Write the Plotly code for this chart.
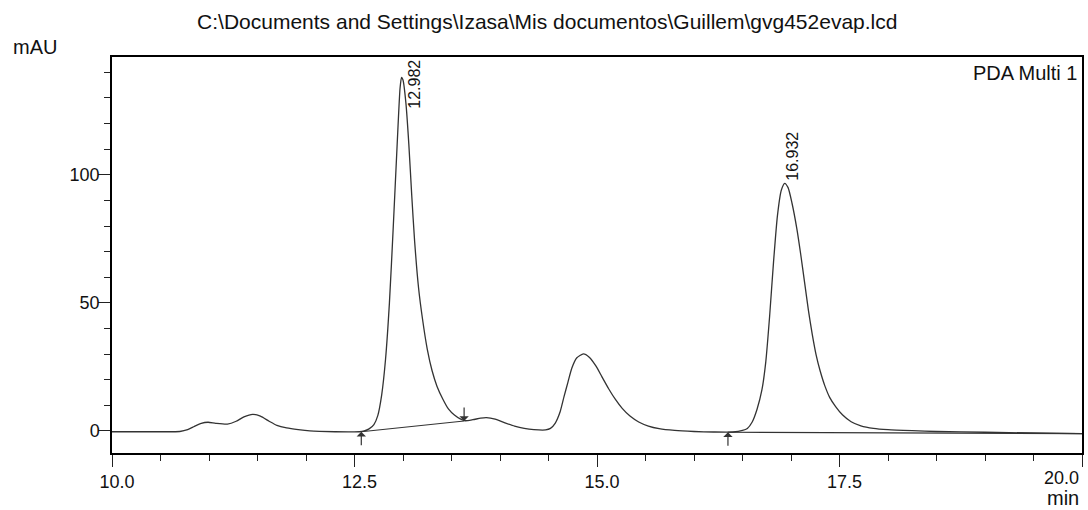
import plotly.graph_objects as go

# chromatogram trace (min, mAU)
time_min = [
    10.0, 10.5, 10.70, 10.78, 10.85, 10.92, 10.99, 11.07, 11.19, 11.28,
    11.36, 11.45, 11.53, 11.62, 11.70, 11.80, 11.92, 12.04, 12.30, 12.55,
    12.60, 12.65, 12.70, 12.74, 12.78, 12.82, 12.86, 12.90, 12.94, 12.97,
    12.985, 13.00, 13.03, 13.06, 13.09, 13.12, 13.16, 13.20, 13.25, 13.30,
    13.35, 13.41, 13.47, 13.53, 13.59, 13.64, 13.72, 13.80, 13.86, 13.95,
    14.05, 14.15, 14.25, 14.35, 14.47, 14.52, 14.57, 14.62, 14.66, 14.70,
    14.74, 14.79, 14.86, 14.92, 14.99, 15.05, 15.12, 15.19, 15.26, 15.34,
    15.43, 15.53, 15.64, 15.80, 16.00, 16.20, 16.40, 16.50, 16.55, 16.60,
    16.65, 16.70, 16.74, 16.78, 16.82, 16.86, 16.90, 16.935, 16.97, 17.01,
    17.06, 17.10, 17.14, 17.18, 17.22, 17.26, 17.30, 17.35, 17.40, 17.46,
    17.53, 17.62, 17.72, 17.85, 18.00, 18.25, 18.50, 19.00, 19.50, 20.0,
]
signal_mau = [
    -0.3, -0.3, -0.2, 0.5, 1.8, 3.0, 3.4, 3.0, 2.7, 3.8,
    5.5, 6.5, 5.8, 3.8, 2.2, 1.2, 0.5, 0.0, -0.3, -0.3,
    0.0, 0.8, 2.5, 6.0, 14.0, 28.0, 50.0, 80.0, 112.0, 134.0,
    138.0, 137.0, 128.0, 112.0, 92.0, 74.0, 56.0, 44.0, 32.0, 23.5,
    17.5, 12.5, 8.5, 6.2, 4.7, 4.0, 4.4, 5.0, 5.2, 4.6,
    3.2, 1.9, 1.0, 0.5, 0.4, 1.0, 3.1, 7.5, 13.4, 19.0,
    24.5, 28.5, 30.1, 28.8, 25.3, 21.2, 16.5, 12.3, 8.8, 5.8,
    3.5, 1.9, 0.9, 0.2, -0.2, -0.4, -0.4, 0.2, 1.0, 3.5,
    8.5, 16.0, 27.0, 45.0, 66.0, 84.0, 94.0, 96.7, 95.0, 89.0,
    79.0, 69.0, 58.0, 47.0, 37.5, 29.5, 23.5, 17.5, 13.0, 9.5,
    6.3, 3.6, 2.0, 1.0, 0.5, 0.1, -0.2, -0.5, -0.8, -1.0,
]

# integration baselines
base1_t = [12.57, 13.63]
base1_v = [-0.3, 3.9]
base2_t = [16.35, 20.0]
base2_v = [-0.5, -1.0]

# peak start/end markers (time, value, direction)
marker_t = [12.57, 13.63, 16.35]
marker_v = [-0.3, 3.9, -0.5]
marker_up = [True, False, True]

peak_t = [12.982, 16.932]
peak_v = [138.0, 96.7]
peak_labels = ["12.982", "16.932"]

x_ticks = [10.0, 12.5, 15.0, 17.5, 20.0]
x_ticktext = ["10.0", "12.5", "15.0", "17.5", ""]
y_ticks = [0, 50, 100]

FONT = "Liberation Sans, Arial, sans-serif"
INK = "#111111"

fig = go.Figure()
fig.add_trace(go.Scatter(x=time_min, y=signal_mau, mode="lines",
                         line=dict(color="#333333", width=1.3, shape="spline", smoothing=0.6)))
fig.add_trace(go.Scatter(x=base1_t, y=base1_v, mode="lines",
                         line=dict(color="#333333", width=1.2)))
fig.add_trace(go.Scatter(x=base2_t, y=base2_v, mode="lines",
                         line=dict(color="#333333", width=1.2)))

for t, v, up in zip(marker_t, marker_v, marker_up):
    fig.add_annotation(x=t, y=v, ax=0, ay=15 if up else -15, text="",
                       showarrow=True, arrowhead=1, arrowsize=1.3,
                       arrowwidth=1.2, arrowcolor="#333333")

# peak retention time labels
fig.add_annotation(x=peak_t[0], y=peak_v[0], text=peak_labels[0], textangle=-90,
                   showarrow=False, xshift=13, yshift=-7,
                   font=dict(family=FONT, size=16, color=INK))
fig.add_annotation(x=peak_t[1], y=peak_v[1], text=peak_labels[1], textangle=-90,
                   showarrow=False, xshift=8, yshift=27,
                   font=dict(family=FONT, size=16, color=INK))

fig.add_annotation(xref="paper", yref="paper", x=1, y=1, xshift=-3, yshift=-3,
                   text="PDA Multi 1", showarrow=False, xanchor="right", yanchor="top",
                   font=dict(family=FONT, size=20, color=INK))
fig.add_annotation(xref="paper", yref="paper", x=1, y=0, xshift=-1, yshift=-25, text="20.0",
                   showarrow=False, xanchor="right", yanchor="middle",
                   font=dict(family=FONT, size=18, color=INK))
fig.add_annotation(xref="paper", yref="paper", x=1, y=0, xshift=-1, yshift=-45, text="min",
                   showarrow=False, xanchor="right", yanchor="middle",
                   font=dict(family=FONT, size=20, color=INK))
fig.add_annotation(xref="paper", yref="paper", x=0, y=1, xshift=-77, yshift=10,
                   text="mAU", showarrow=False, xanchor="center", yanchor="middle",
                   font=dict(family=FONT, size=20, color=INK))

fig.update_layout(
    width=1088, height=510,
    margin=dict(l=112, r=4, t=57, b=57),
    paper_bgcolor="white", plot_bgcolor="white",
    showlegend=False,
    title=dict(text="C:\\Documents and Settings\\Izasa\\Mis documentos\\Guillem\\gvg452evap.lcd",
               x=0.503, xref="container", xanchor="center",
               y=1 - 22 / 510, yref="container", yanchor="middle",
               font=dict(family=FONT, size=21, color=INK)),
    font=dict(family=FONT, size=18, color=INK),
)
fig.update_xaxes(range=[10, 20], tickvals=x_ticks, ticktext=x_ticktext,
                 ticks="outside", ticklen=12, tickwidth=1.2, tickcolor="#222",
                 minor=dict(dtick=0.5, ticks="outside", ticklen=6, tickwidth=1.2, tickcolor="#222"),
                 showline=True, linecolor="black", linewidth=1.5, mirror=True,
                 showgrid=False, zeroline=False, ticklabelshift=5)
fig.update_yaxes(range=[-8.6, 146], tickvals=y_ticks,
                 ticks="outside", ticklen=12, tickwidth=1.2, tickcolor="#222",
                 minor=dict(dtick=10, ticks="outside", ticklen=6, tickwidth=1.2, tickcolor="#222"),
                 showline=True, linecolor="black", linewidth=1.5, mirror=True,
                 showgrid=False, zeroline=False, ticklabelstandoff=-5)

# drop the page's default body margin so the 1088x510 figure fills the window
fig.write_html("out.html", config={"displayModeBar": False},
               post_script="document.body.style.margin = '0';")
